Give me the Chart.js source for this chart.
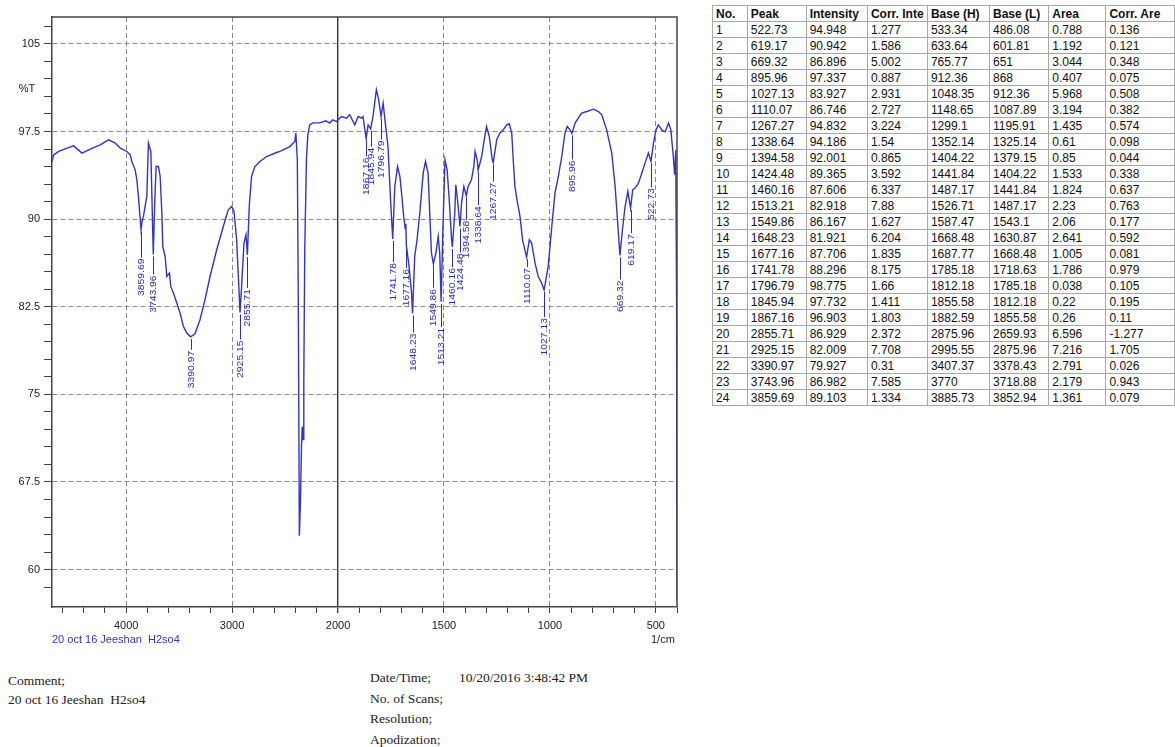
<!DOCTYPE html>
<html>
<head>
<meta charset="utf-8">
<script src="https://cdn.jsdelivr.net/npm/chart.js@4"></script>
<style>
  html, body { margin: 0; padding: 0; background: #fff; overflow: hidden; }
  body { width: 1175px; height: 747px; position: relative; font-family: Arial, "Liberation Sans", sans-serif; }
  #chart { position: absolute; left: 0; top: 0; }
  .txt { position: absolute; white-space: pre; }
  #peaks { position: absolute; left: 712px; top: 5px; border-collapse: collapse; font-size: 12px; color: #111; table-layout: fixed; }
  #peaks td, #peaks th { border: 1px solid #a8a8a8; height: 15px; padding: 0 3px; text-align: left; overflow: hidden; white-space: nowrap; line-height: 14px; }
  #peaks th { font-weight: bold; }
  .serif { font-family: "Liberation Serif", "Times New Roman", serif; font-size: 13.5px; color: #222; }
</style>
</head>
<body>
<canvas id="chart" width="700" height="650"></canvas>
<div class="txt" style="left:52px; top:633px; font-size:11px; color:#3535c8;">20 oct 16 Jeeshan  H2so4</div>
<div class="txt" style="left:651px; top:633px; font-size:11px; color:#222;">1/cm</div>
<table id="peaks"></table>
<div class="txt serif" style="left:8px; top:673px;">Comment;</div>
<div class="txt serif" style="left:8px; top:692px;">20 oct 16 Jeeshan  H2so4</div>
<div class="txt serif" style="left:370px; top:670px;">Date/Time;</div>
<div class="txt serif" style="left:459px; top:670px;">10/20/2016 3:48:42 PM</div>
<div class="txt serif" style="left:370px; top:691px;">No. of Scans;</div>
<div class="txt serif" style="left:370px; top:711px;">Resolution;</div>
<div class="txt serif" style="left:370px; top:732px;">Apodization;</div>
<script>
// spectrum: [wavenumber 1/cm, %T]
const spectrum = [
  [4700, 94.9], [4684, 95.5], [4637, 95.79], [4558, 96.08], [4496, 96.27], [4417, 95.65],
  [4339, 95.99], [4245, 96.36], [4166, 96.79], [4103, 96.51], [4056, 96.08], [3993, 95.79],
  [3962, 95.5], [3946, 94.93], [3915, 94.22], [3899, 93.37], [3884, 91.94], [3870, 90.3],
  [3859.69, 89.10], [3850, 89.8], [3837, 90.23], [3805, 91.94], [3790, 96.51], [3767, 95.79],
  [3755, 91.2], [3743.96, 86.98], [3730, 91.5], [3717, 94.5], [3695, 94.5], [3679, 93.65],
  [3663, 90.52], [3654, 87.66], [3632, 86.8], [3616, 85.09], [3591, 85.38], [3579, 84.24],
  [3554, 83.67], [3522, 82.82], [3491, 81.96], [3460, 80.82], [3428, 80.25], [3390.97, 79.93],
  [3350, 80.19], [3303, 81.39], [3256, 83.1], [3208, 85.09], [3145, 87.38], [3083, 89.37],
  [3036, 90.8], [3004, 91.08], [2982, 90.65], [2957, 88.23], [2932, 83.38], [2925.15, 82.01],
  [2910, 84.24], [2888, 87.95], [2869, 88.66], [2855.71, 86.93], [2838, 91.08], [2816, 93.65],
  [2785, 94.5], [2737, 94.93], [2674, 95.36], [2580, 95.7], [2549, 95.79], [2455, 96.21],
  [2408, 96.64], [2398, 97.36], [2384, 95.08], [2375, 83.1], [2365, 62.9], [2354, 66.0],
  [2345, 70.53], [2337, 72.24], [2330, 71.13], [2323, 76.26], [2314, 87.38], [2298, 95.08],
  [2285, 97.22], [2267, 98.07], [2238, 98.24], [2172, 98.24], [2116, 98.41], [2078, 98.22],
  [2050, 98.5], [2015, 98.35], [1984, 98.78], [1960, 98.64], [1945, 98.93], [1921, 98.07],
  [1905, 98.78], [1889, 98.64], [1882, 98.78], [1867.16, 96.90], [1858, 98.07], [1845.94, 97.73],
  [1835, 98.78], [1819, 101.07], [1808, 100.21], [1796.79, 98.78], [1787, 99.93], [1775, 97.93],
  [1764, 96.21], [1752, 91.66], [1741.78, 88.30], [1732, 92.79], [1719, 94.5], [1708, 93.65],
  [1700, 92.23], [1690, 90.23], [1683, 89.2], [1680, 89.6], [1677.16, 87.71], [1665, 86.0],
  [1653, 83.67], [1648.23, 81.92], [1638, 86.8], [1627, 88.23], [1614, 90.52], [1598, 93.94],
  [1587, 94.93], [1575, 93.94], [1567, 90.52], [1559, 87.1], [1549.86, 86.17], [1538, 87.1],
  [1527, 88.52], [1520, 87.1], [1513.21, 82.92], [1505, 89.09], [1495, 95.08], [1485, 94.22],
  [1475, 91.66], [1464, 88.23], [1460.16, 87.61], [1449, 90.52], [1444, 92.94], [1436, 91.66],
  [1424.48, 89.37], [1417, 91.37], [1406, 92.79], [1394.58, 92.00], [1386, 92.79], [1370, 93.37],
  [1359, 94.5], [1353, 95.79], [1343, 95.08], [1338.64, 94.19], [1322, 95.36], [1310, 96.79],
  [1299, 97.93], [1286, 97.07], [1272, 95.08], [1267.27, 94.83], [1251, 96.79], [1236, 97.36],
  [1220, 97.64], [1204, 98.07], [1192, 98.16], [1180, 97.36], [1173, 95.08], [1165, 92.79],
  [1154, 91.51], [1141, 90.23], [1129, 88.23], [1110.07, 86.75], [1097, 88.23], [1086, 87.95],
  [1070, 86.24], [1055, 85.09], [1039, 84.53], [1027.13, 83.93], [1008, 85.95], [991, 89.37],
  [976, 92.23], [960, 93.65], [944, 95.36], [929, 97.36], [918, 97.93], [905, 97.64],
  [895.96, 97.34], [881, 98.22], [866, 98.64], [850, 99.07], [826, 99.21], [795, 99.41],
  [771, 99.21], [755, 98.93], [732, 97.64], [708, 95.65], [692, 92.79], [681, 89.94],
  [669.32, 86.90], [656, 89.37], [645, 91.08], [632, 92.37], [619.17, 90.94], [609, 92.51],
  [598, 92.66], [582, 93.08], [566, 93.94], [551, 94.79], [535, 95.65], [522.73, 94.95],
  [511, 96.51], [499, 97.64], [488, 98.07], [472, 97.64], [456, 97.47], [440, 98.22],
  [429, 97.64], [418, 95.5], [411, 93.8], [406, 95.9], [402, 83.1], [400, 57.4]
];

// peak table
const peakNo = [1, 2, 3, 4, 5, 6, 7, 8, 9, 10, 11, 12, 13, 14, 15, 16, 17, 18, 19, 20, 21, 22, 23, 24];
const peakWave = ["522.73", "619.17", "669.32", "895.96", "1027.13", "1110.07", "1267.27", "1338.64",
  "1394.58", "1424.48", "1460.16", "1513.21", "1549.86", "1648.23", "1677.16", "1741.78", "1796.79",
  "1845.94", "1867.16", "2855.71", "2925.15", "3390.97", "3743.96", "3859.69"];
const peakIntensity = ["94.948", "90.942", "86.896", "97.337", "83.927", "86.746", "94.832", "94.186",
  "92.001", "89.365", "87.606", "82.918", "86.167", "81.921", "87.706", "88.296", "98.775", "97.732",
  "96.903", "86.929", "82.009", "79.927", "86.982", "89.103"];
const corrIntensity = ["1.277", "1.586", "5.002", "0.887", "2.931", "2.727", "3.224", "1.54", "0.865",
  "3.592", "6.337", "7.88", "1.627", "6.204", "1.835", "8.175", "1.66", "1.411", "1.803", "2.372",
  "7.708", "0.31", "7.585", "1.334"];
const baseHigh = ["533.34", "633.64", "765.77", "912.36", "1048.35", "1148.65", "1299.1", "1352.14",
  "1404.22", "1441.84", "1487.17", "1526.71", "1587.47", "1668.48", "1687.77", "1785.18", "1812.18",
  "1855.58", "1882.59", "2875.96", "2995.55", "3407.37", "3770", "3885.73"];
const baseLow = ["486.08", "601.81", "651", "868", "912.36", "1087.89", "1195.91", "1325.14", "1379.15",
  "1404.22", "1441.84", "1487.17", "1543.1", "1630.87", "1668.48", "1718.63", "1785.18", "1812.18",
  "1855.58", "2659.93", "2875.96", "3378.43", "3718.88", "3852.94"];
const area = ["0.788", "1.192", "3.044", "0.407", "5.968", "3.194", "1.435", "0.61", "0.85", "1.533",
  "1.824", "2.23", "2.06", "2.641", "1.005", "1.786", "0.038", "0.22", "0.26", "6.596", "7.216",
  "2.791", "2.179", "1.361"];
const corrArea = ["0.136", "0.121", "0.348", "0.075", "0.508", "0.382", "0.574", "0.098", "0.044",
  "0.338", "0.637", "0.763", "0.177", "0.592", "0.081", "0.979", "0.105", "0.195", "0.11", "-1.277",
  "1.705", "0.026", "0.943", "0.079"];
const tableHeader = ["No.", "Peak", "Intensity", "Corr. Inte", "Base (H)", "Base (L)", "Area", "Corr. Are"];

// axis ticks
const xMajorTicks = [4000, 3000, 2000, 1500, 1000, 500];
const xTicks = [4600, 4400, 4200, 4000, 3800, 3600, 3400, 3200, 3000, 2800, 2600, 2400, 2200, 2000,
  1900, 1800, 1700, 1600, 1500, 1400, 1300, 1200, 1100, 1000, 900, 800, 700, 600, 500, 400];
const yMajorTicks = [105, 97.5, 90, 82.5, 75, 67.5, 60];
const yTicks = [58.5, 60, 61.5, 63, 64.5, 66, 67.5, 69, 70.5, 72, 73.5, 75, 76.5, 78, 79.5, 81, 82.5,
  84, 85.5, 87, 88.5, 90, 91.5, 93, 94.5, 96, 97.5, 99, 100.5, 102, 103.5, 105, 106.5];

// leader length under each peak label (px), by peak number
const leader = {1: 26, 2: 25, 3: 24, 4: 26, 5: 27, 6: 10, 7: 19, 8: 35, 9: 24, 10: 26, 11: 20, 12: 25,
  13: 24, 14: 19, 15: 22, 16: 23, 17: 23, 18: 18, 19: 18, 20: 33, 21: 27, 22: 13, 23: 20, 24: 28};

// table
const colW = [36, 60, 62, 60, 63, 60, 60, 70];
let html = "<colgroup>" + colW.map(w => `<col style="width:${w}px">`).join("") + "</colgroup>";
html += "<tr>" + tableHeader.map(h => `<th>${h}</th>`).join("") + "</tr>";
peakNo.forEach((n, i) => {
  const row = [n, peakWave[i], peakIntensity[i], corrIntensity[i], baseHigh[i], baseLow[i], area[i], corrArea[i]];
  html += "<tr>" + row.map(c => `<td>${c}</td>`).join("") + "</tr>";
});
document.getElementById("peaks").innerHTML = html;

// x axis: 4700-2000 at half the scale of 2000-400, like the instrument print
class SplitScale extends Chart.LinearScale {
  _units(v) {
    const split = 2000;
    return v >= split ? this.max - v : (this.max - split) + (split - v) * 2;
  }
  getPixelForValue(value) {
    return this.getPixelForDecimal(this._units(value) / this._units(this.min));
  }
  getValueForPixel(pixel) {
    const u = this.getDecimalForPixel(pixel) * this._units(this.min);
    const hi = this.max - 2000;
    return u <= hi ? this.max - u : 2000 - (u - hi) / 2;
  }
}
SplitScale.id = "split";
SplitScale.defaults = Chart.LinearScale.defaults;
Chart.register(SplitScale);

const frame = {
  id: "frame",
  afterDatasetsDraw(chart) {
    const { ctx, chartArea: a, scales: { x, y } } = chart;
    ctx.save();
    // peak labels, narrow print font
    ctx.strokeStyle = "#2a2ad0";
    ctx.fillStyle = "#2a2ad0";
    ctx.lineWidth = 1;
    ctx.font = "9px Arial";
    peakNo.forEach((n, i) => {
      const px = Math.round(x.getPixelForValue(+peakWave[i])) + 0.5;
      const py = y.getPixelForValue(+peakIntensity[i]);
      const L = leader[n];
      ctx.beginPath();
      ctx.moveTo(px, py + 2);
      ctx.lineTo(px, py + L);
      ctx.stroke();
      ctx.save();
      ctx.translate(px, py + L + 1);
      ctx.rotate(-Math.PI / 2);
      ctx.scale(1.15, 1);
      ctx.textAlign = "right";
      ctx.textBaseline = "middle";
      ctx.fillText(peakWave[i], 0, 0);
      ctx.restore();
    });
    // top and right frame
    ctx.strokeStyle = "#444";
    ctx.lineWidth = 1.5;
    ctx.beginPath();
    ctx.moveTo(a.left, a.top);
    ctx.lineTo(a.right, a.top);
    ctx.lineTo(a.right, a.bottom);
    ctx.stroke();
    // y title
    ctx.fillStyle = "#222";
    ctx.font = "11px Arial";
    ctx.textAlign = "center";
    ctx.textBaseline = "middle";
    ctx.fillText("%T", 27, y.getPixelForValue(101.1));
    ctx.restore();
  }
};

const isMajorX = v => xMajorTicks.includes(v) && v !== 2000;

new Chart(document.getElementById("chart"), {
  type: "line",
  data: {
    datasets: [{
      data: spectrum.map(([w, t]) => ({ x: w, y: t })),
      borderColor: "#3232cc",
      borderWidth: 1.4,
      pointRadius: 0,
      tension: 0,
      fill: false
    }]
  },
  options: {
    responsive: false,
    animation: false,
    devicePixelRatio: 1,
    layout: { padding: { left: 0, top: 17, right: 23, bottom: 0 } },
    plugins: { legend: { display: false }, tooltip: { enabled: false } },
    scales: {
      x: {
        type: "split",
        min: 400,
        max: 4700,
        afterFit: s => { s.height = 43; },
        afterBuildTicks: s => { s.ticks = xTicks.map(v => ({ value: v })); },
        ticks: {
          autoSkip: false, maxRotation: 0, minRotation: 0, padding: 6,
          color: "#222", font: { family: "Arial", size: 11 },
          callback: v => (xMajorTicks.includes(v) ? String(v) : "")
        },
        grid: {
          color: c => (c.tick && c.tick.value === 2000 ? "#333" : (c.tick && isMajorX(c.tick.value) ? "#8a8a8a" : "rgba(0,0,0,0)")),
          lineWidth: c => (c.tick && c.tick.value === 2000 ? 1.4 : 1),
          tickColor: "#444",
          tickLength: 6
        },
        border: {
          color: "#444", width: 1.5,
          dash: c => (c.tick && c.tick.value !== 2000 ? [5, 3] : [])
        }
      },
      y: {
        type: "linear",
        min: 56.8,
        max: 107.3,
        afterFit: s => { s.width = 52; },
        afterBuildTicks: s => { s.ticks = yTicks.map(v => ({ value: v })); },
        ticks: {
          autoSkip: false, padding: 4,
          color: "#222", font: { family: "Arial", size: 11 },
          callback: v => (yMajorTicks.includes(v) ? String(v) : "")
        },
        grid: {
          color: c => (c.tick && yMajorTicks.includes(c.tick.value) ? "#8a8a8a" : "rgba(0,0,0,0)"),
          tickColor: "#444",
          tickLength: 8
        },
        border: {
          color: "#444", width: 1.5,
          dash: c => (c.tick ? [5, 3] : [])
        }
      }
    }
  },
  plugins: [frame]
});
</script>
</body>
</html>
